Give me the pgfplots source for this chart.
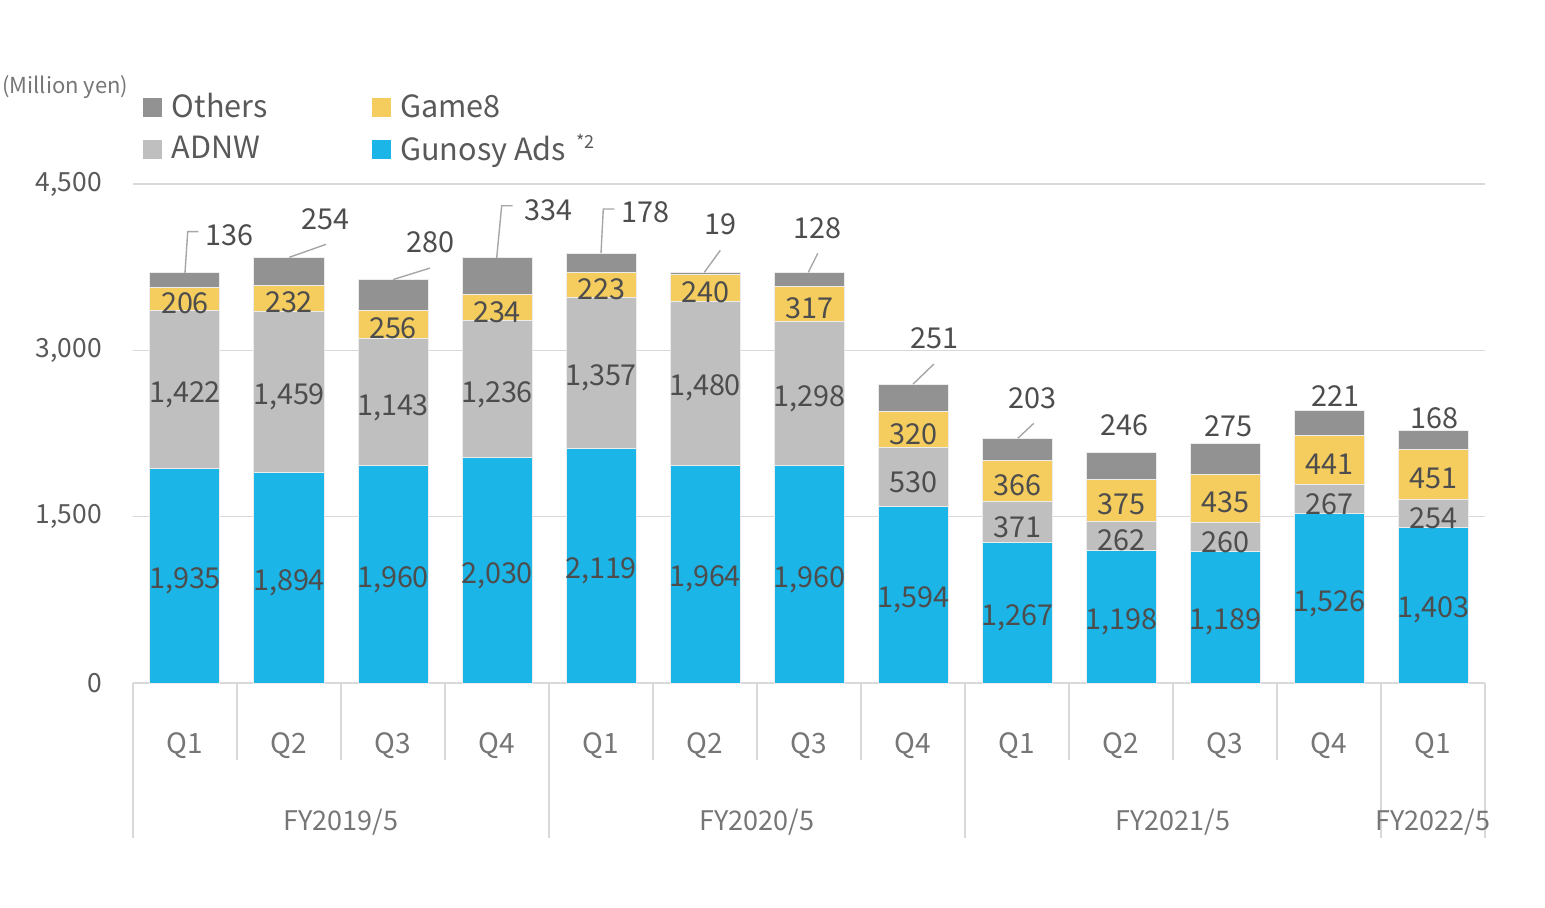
\documentclass[border=0pt]{standalone}
\usepackage{pgfplots}
\pgfplotsset{compat=1.18}
\usepackage{pgfplotstable}
\usepackage{fontspec}
\setmainfont{Noto Sans CJK JP}

\definecolor{gunosy}{HTML}{1BB5E8}
\definecolor{adnw}{HTML}{BFBFBF}
\definecolor{gamee}{HTML}{F5CC5E}
\definecolor{others}{HTML}{929292}
\definecolor{gridc}{HTML}{D9D9D9}
\definecolor{lbl}{HTML}{4D4D4D}
\definecolor{tickc}{HTML}{595959}
\definecolor{catc}{HTML}{767676}
\definecolor{leader}{HTML}{A6A6A6}

\pgfplotsset{sqlegend/.style={legend image code/.code={\fill[##1, draw=none] (0pt,-4.75pt) rectangle (9.5pt,4.75pt); \path (12pt,0pt);}}}

\pgfplotstableread{
x gunosy adnw game others
0 1935 1422 206 136
1 1894 1459 232 254
2 1960 1143 256 280
3 2030 1236 234 334
4 2119 1357 223 178
5 1964 1480 240 19
6 1960 1298 317 128
7 1594 530 320 251
8 1267 371 366 203
9 1198 262 375 246
10 1189 260 435 275
11 1526 267 441 221
12 1403 254 451 168
}\revenue

\pgfplotstableread{
x gmid g amid a gemid ge
0 967.5 1935 2646 1422 3460 206
1 947 1894 2623.5 1459 3469 232
2 980 1960 2531.5 1143 3231 256
3 1015 2030 2648 1236 3383 234
4 1059.5 2119 2797.5 1357 3587.5 223
5 982 1964 2704 1480 3564 240
6 980 1960 2609 1298 3416.5 317
7 797 1594 1859 530 2284 320
8 633.5 1267 1452.5 371 1821 366
9 599 1198 1329 262 1647.5 375
10 594.5 1189 1319 260 1666.5 435
11 763 1526 1659.5 267 2013.5 441
12 701.5 1403 1530 254 1882.5 451
}\midlabels

\pgfplotstableread{
x y v
0.428 4047 136
1.354 4191 254
2.358 3988 280
3.498 4276 334
4.426 4258 178
5.147 4146 19
6.079 4112 128
7.205 3117 251
8.153 2576 203
9.032 2336 246
10.037 2329 275
11.058 2597 221
12.016 2401 168
}\otherlabels

\begin{document}
\begin{tikzpicture}[/pgf/number format/1000 sep={,}, /pgf/number format/assume math mode=true]
\path (-66.5pt,-94pt) rectangle (706pt,341.5pt);
\begin{axis}[
  at={(0,0)}, anchor=south west,
  scale only axis, width=676pt, height=249.5pt,
  xmin=-0.5, xmax=12.5, ymin=0, ymax=4500,
  ybar stacked, bar width=35pt,
  axis x line*=bottom, axis y line*=left,
  y axis line style={draw=none},
  x axis line style={draw=gridc, line width=0.8pt},
  tick align=outside,
  major tick length=0pt,
  minor tick length=38.5pt,
  xtick={0,...,12},
  xticklabels={Q1,Q2,Q3,Q4,Q1,Q2,Q3,Q4,Q1,Q2,Q3,Q4,Q1},
  minor xtick={0.5,1.5,2.5,4.5,5.5,6.5,8.5,9.5,10.5},
  extra x ticks={-0.5,3.5,7.5,11.5,12.5},
  extra x tick labels={},
  extra x tick style={major tick length=77.5pt, tick style={draw=gridc, line width=0.6pt}},
  xtick style={draw=gridc, line width=0.6pt},
  ytick={0,1500,3000,4500},
  ytick style={draw=none},
  ymajorgrids,
  major grid style={draw=gridc, line width=0.6pt},
  xticklabel style={font=\fontsize{14}{14}\selectfont, text=catc, anchor=center, yshift=-31.5pt},
  yticklabel style={font=\fontsize{13.2}{13.2}\selectfont, text=tickc, xshift=-12pt},
  /pgf/number format/1000 sep={,}, /pgf/number format/assume math mode=true,
  legend columns=2, reverse legend,
  legend cell align=left,
  legend style={at={(0.0074,1.19)}, anchor=north west, draw=none, fill=none,
    font=\fontsize{15.3}{15.3}\selectfont, text=tickc, inner sep=0pt, row sep=2.8pt,
    /tikz/column 2/.style={column sep=50pt}},
]
\addplot[fill=gunosy, draw=white!85!gray, line width=0.5pt, sqlegend] table[x=x, y=gunosy]{\revenue};
\addlegendentry{Gunosy Ads\hspace{5pt}\raisebox{6pt}{\fontsize{9}{9}\selectfont *2}}
\addplot[fill=adnw, draw=white!85!gray, line width=0.5pt, sqlegend] table[x=x, y=adnw]{\revenue};
\addlegendentry{ADNW}
\addplot[fill=gamee, draw=white!85!gray, line width=0.5pt, sqlegend] table[x=x, y=game]{\revenue};
\addlegendentry{Game8}
\addplot[fill=others, draw=white!85!gray, line width=0.5pt, sqlegend] table[x=x, y=others]{\revenue};
\addlegendentry{Others}
\end{axis}

\begin{axis}[
  at={(0,0)}, anchor=south west,
  scale only axis, width=676pt, height=249.5pt,
  xmin=-0.5, xmax=12.5, ymin=0, ymax=4500,
  clip=false,
  hide y axis,
  axis x line*=bottom,
  x axis line style={draw=none},
  major tick length=0pt,
  xtick style={draw=none},
  xtick={1.5,5.5,9.5,12},
  xticklabels={FY2019/5,FY2020/5,FY2021/5,FY2022/5},
  xticklabel style={font=\fontsize{13.5}{13.5}\selectfont, text=catc, anchor=center, yshift=-69.5pt},
  /pgf/number format/1000 sep={,}, /pgf/number format/assume math mode=true,
  every node near coord/.append style={font=\fontsize{14.4}{14.4}\selectfont, text=lbl},
]
\addplot[draw=none, mark=none, nodes near coords, nodes near coords align=center, point meta=explicit,
  every node near coord/.append style={yshift=-2.5pt}] table[x=x, y=gmid, meta=g]{\midlabels};
\addplot[draw=none, mark=none, nodes near coords, nodes near coords align=center, point meta=explicit,
  every node near coord/.append style={yshift=-2.5pt}] table[x=x, y=amid, meta=a]{\midlabels};
\addplot[draw=none, mark=none, nodes near coords, nodes near coords align=center, point meta=explicit,
  every node near coord/.append style={yshift=-2pt}] table[x=x, y=gemid, meta=ge]{\midlabels};
\addplot[draw=none, mark=none, nodes near coords, nodes near coords align=center, point meta=explicit,
  every node near coord/.append style={yshift=-0.5pt}] table[x=x, y=y, meta=v]{\otherlabels};
\addplot[leader, line width=0.7pt, mark=none] coordinates {(0,3699) (0.026,4070) (0.128,4070)};
\addplot[leader, line width=0.7pt, mark=none] coordinates {(1.003,3839) (1.356,3956)};
\addplot[leader, line width=0.7pt, mark=none] coordinates {(2.003,3639) (2.356,3742)};
\addplot[leader, line width=0.7pt, mark=none] coordinates {(2.997,3834) (3.045,4304) (3.151,4304)};
\addplot[leader, line width=0.7pt, mark=none] coordinates {(4.0,3877) (4.022,4275) (4.128,4275)};
\addplot[leader, line width=0.7pt, mark=none] coordinates {(4.993,3703) (5.147,3902)};
\addplot[leader, line width=0.7pt, mark=none] coordinates {(5.993,3703) (6.084,3875)};
\addplot[leader, line width=0.7pt, mark=none] coordinates {(7.0,2695) (7.201,2877)};
\addplot[leader, line width=0.7pt, mark=none] coordinates {(8.008,2207) (8.161,2342)};
\end{axis}

\node[anchor=west, inner sep=0pt, font=\fontsize{11}{11}\selectfont, text=catc] at (-65.5pt,298pt) {(Million yen)};
\end{tikzpicture}
\end{document}
